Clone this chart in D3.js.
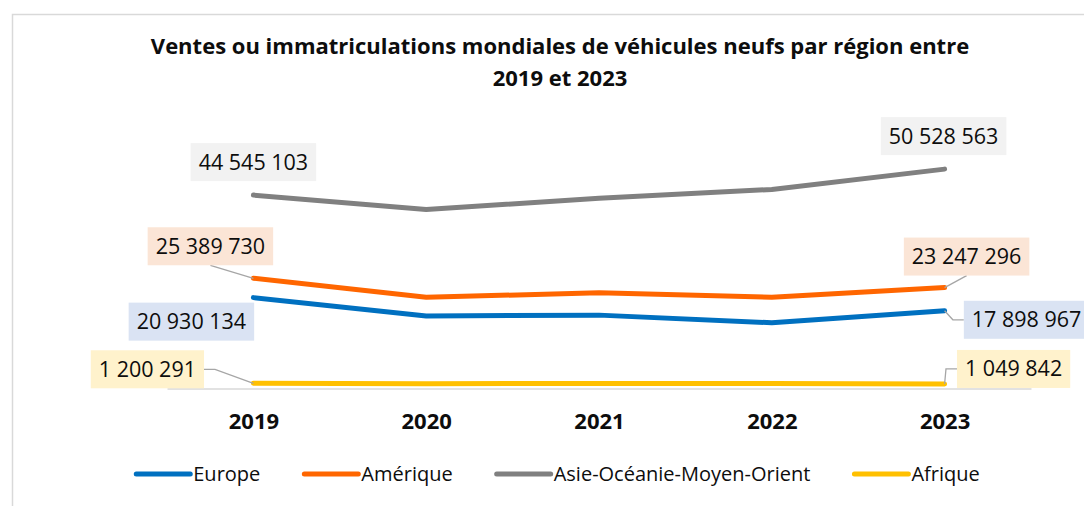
<!DOCTYPE html>
<html>
<head>
<meta charset="utf-8">
<script src="https://cdn.jsdelivr.net/npm/d3@7"></script>
<style>
  body { margin: 0; background: #fff; }
  text { font-family: "Open Sans", "Noto Sans", sans-serif; fill: #0d0d0d; }
  .title { font-weight: bold; font-size: 22px; }
  .lbl { font-size: 21.5px; }
  .leg { font-size: 20px; }
</style>
</head>
<body>
<script>
const width = 1084
const height = 506

// Data
const years = ['2019', '2020', '2021', '2022', '2023']
const europe = [20930134, 16700000, 16900000, 15150000, 17898967]
const amerique = [25389730, 21000000, 22050000, 21000000, 23247296]
const asie = [44545103, 41250000, 43800000, 45850000, 50528563]
const afrique = [1200291, 1100000, 1150000, 1150000, 1049842]
const seriesNames = ['Europe', 'Amérique', 'Asie-Océanie-Moyen-Orient', 'Afrique']
const titleLines = ['Ventes ou immatriculations mondiales de véhicules neufs par région entre', '2019 et 2023']

const series = [
  { name: seriesNames[0], values: europe, color: '#0070c0', bg: '#dae3f3',
    labels: [{ i: 0, dx: -62, dy: 24 }, { i: 4, dx: 82, dy: 9, leader: 'left' }] },
  { name: seriesNames[1], values: amerique, color: '#ff6600', bg: '#fbe5d6',
    labels: [{ i: 0, dx: -43, dy: -32, leader: 'bottom' }, { i: 4, dx: 22, dy: -31, leader: 'bottom' }] },
  { name: seriesNames[2], values: asie, color: '#808080', bg: '#f2f2f2',
    labels: [{ i: 0, dx: 0, dy: -33 }, { i: 4, dx: -1, dy: -33 }] },
  { name: seriesNames[3], values: afrique, color: '#ffc000', bg: '#fff2cc',
    labels: [{ i: 0, dx: -106, dy: -14, leader: 'right' }, { i: 4, dx: 69, dy: -15, leader: 'left' }] }
]

const fr = d3.formatLocale({ decimal: ',', thousands: ' ', grouping: [3], currency: ['', ' €'] })
const fmt = fr.format(',d')

const svg = d3.select('body').append('svg')
  .attr('width', width)
  .attr('height', height)

// chart frame (cropped on right and bottom)
svg.append('rect')
  .attr('x', 12.5).attr('y', 14.5)
  .attr('width', 1200).attr('height', 700)
  .attr('fill', '#fff').attr('stroke', '#d9d9d9').attr('stroke-width', 1.5)

// Title
svg.append('g').selectAll('text.title')
  .data(titleLines)
  .enter().append('text').classed('title', true)
  .attr('x', 560)
  .attr('y', (d, i) => 54 + i * 32)
  .attr('text-anchor', 'middle')
  .text(d => d)

const x = d3.scalePoint().domain(years).range([167, 1031]).padding(0.5)
const y = d3.scaleLinear().domain([0, 60000000]).range([388.5, 128])

// category axis
const xAxis = svg.append('g')
  .attr('transform', `translate(0,${y(0)})`)
  .call(d3.axisBottom(x).tickSize(0).tickPadding(25))
xAxis.select('.domain').attr('stroke', '#d9d9d9').attr('stroke-width', 1.5)
xAxis.selectAll('.tick text').attr('fill', '#0d0d0d')
  .style('font-family', '"Open Sans", sans-serif').style('font-size', '22px').style('font-weight', 'bold')

const line = d3.line()
  .x((d, i) => x(years[i]))
  .y(d => y(d))

// draw order: Asie, Amérique, Europe, Afrique
const drawOrder = [series[2], series[1], series[0], series[3]]
svg.append('g').selectAll('path.serie')
  .data(drawOrder)
  .enter().append('path').classed('serie', true)
  .attr('d', d => line(d.values))
  .attr('fill', 'none')
  .attr('stroke', d => d.color)
  .attr('stroke-width', 5)
  .attr('stroke-linejoin', 'round')
  .attr('stroke-linecap', 'round')

// Data labels with coloured boxes and leader lines
const labelLayer = svg.append('g')
series.forEach(s => {
  s.labels.forEach(l => {
    const px = x(years[l.i])
    const py = y(s.values[l.i])
    const cx = px + l.dx
    const cy = py + l.dy
    const g = labelLayer.append('g')
    const rect = g.append('rect').attr('fill', s.bg)
    const t = g.append('text').classed('lbl', true)
      .attr('x', cx).attr('y', cy + 7.5)
      .attr('text-anchor', 'middle')
      .text(fmt(s.values[l.i]))
    const w = t.node().getComputedTextLength() + 16
    const h = 38
    rect.attr('x', cx - w / 2).attr('y', cy - h / 2).attr('width', w).attr('height', h)

    let pts = null
    if (l.leader === 'bottom') {
      pts = [[cx, cy + h / 2], [px, py]]
    } else if (l.leader === 'left') {
      const ex = cx - w / 2
      pts = [[ex, cy], [ex - 11, cy], [px, py]]
    } else if (l.leader === 'right') {
      const ex = cx + w / 2
      pts = [[ex, cy], [ex + 11, cy], [px, py]]
    }
    if (pts) {
      labelLayer.insert('path', ':first-child')
        .attr('d', d3.line()(pts))
        .attr('fill', 'none')
        .attr('stroke', '#a6a6a6')
        .attr('stroke-width', 1.3)
    }
  })
})

// Legend
const legend = svg.append('g').attr('transform', 'translate(0,474)')
const items = legend.selectAll('g.item')
  .data(series)
  .enter().append('g').classed('item', true)
items.append('line')
  .attr('x1', 0).attr('x2', 54)
  .attr('stroke', d => d.color)
  .attr('stroke-width', 5)
  .attr('stroke-linecap', 'round')
items.append('text').classed('leg', true)
  .attr('x', 57).attr('y', 7)
  .text(d => d.name)

let widths = []
items.each(function() { widths.push(this.getBBox().width) })
const gap = 44
const total = d3.sum(widths) + gap * (widths.length - 1)
let pos = 558 - total / 2
items.attr('transform', (d, i) => {
  const tx = pos
  pos += widths[i] + gap
  return `translate(${tx},0)`
})
</script>
</body>
</html>
